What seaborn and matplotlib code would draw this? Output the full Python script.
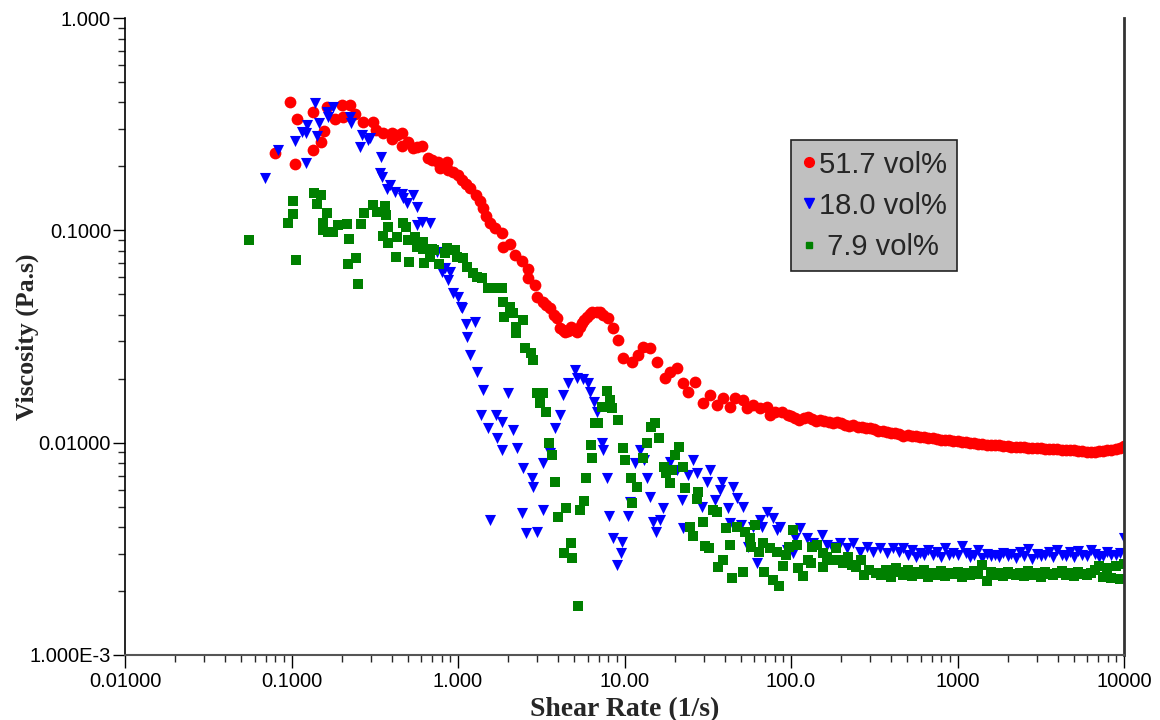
import matplotlib
matplotlib.use("Agg")
import matplotlib.pyplot as plt
from matplotlib.lines import Line2D
from matplotlib.ticker import LogLocator, NullFormatter
import seaborn as sns

##### Dados #####################################################################
# 51.7 vol%
red_x = [0.0796, 0.098, 0.105, 0.108, 0.1346, 0.135, 0.150, 0.157, 0.163, 0.182,
         0.201, 0.204, 0.225, 0.241, 0.269, 0.309, 0.322, 0.355, 0.401, 0.401,
         0.43, 0.461, 0.461, 0.50, 0.537, 0.57, 0.608, 0.661, 0.70, 0.759,
         0.78, 0.859, 0.87, 0.93, 1.0, 1.05, 1.12, 1.18, 1.28, 1.35,
         1.42, 1.48, 1.56, 1.67, 1.84, 1.86, 2.05, 2.2, 2.42, 2.63,
         2.65, 2.9, 3.0, 3.24, 3.4, 3.57, 3.75, 3.93, 4.1, 4.25,
         4.4, 4.6, 4.8, 5.0, 5.2, 5.4, 5.56, 5.75, 5.96, 6.2,
         6.4, 6.8, 7.1, 7.43, 7.96, 8.53, 9.14, 9.79, 11.09, 12.05,
         12.92, 14.2, 15.7, 17.5, 18.8, 20.7, 22.4, 24.1, 26.5, 29.6,
         32.6, 35.9, 39.1, 43.0, 46.1, 51.5, 54.5, 59.2, 65.2, 71.8,
         74.8, 80.2, 88.3, 95.9,
         100, 106, 112, 119, 126, 133, 141, 150, 158, 168,
         178, 188, 200, 211, 224, 237, 251, 266, 282, 299,
         316, 335, 355, 376, 398, 422, 447, 473, 501, 531,
         562, 596, 631, 668, 708, 750, 794, 841, 891, 944,
         1000, 1060, 1120, 1190, 1260, 1330, 1410, 1500, 1580, 1680,
         1780, 1880, 2000, 2110, 2240, 2370, 2510, 2660, 2820, 2990,
         3160, 3350, 3550, 3760, 3980, 4220, 4470, 4730, 5010, 5310,
         5620, 5960, 6310, 6680, 7080, 7500, 7940, 8410, 8910, 9440,
         10000]
red_y = [0.231, 0.40, 0.205, 0.334, 0.239, 0.361, 0.26, 0.294, 0.381, 0.334,
         0.389, 0.342, 0.389, 0.353, 0.324, 0.324, 0.297, 0.287, 0.287, 0.269,
         0.280, 0.287, 0.249, 0.262, 0.244, 0.246, 0.249, 0.219, 0.215, 0.21,
         0.196, 0.21, 0.192, 0.188, 0.182, 0.173, 0.165, 0.158, 0.147, 0.137,
         0.127, 0.117, 0.108, 0.1025, 0.097, 0.0835, 0.0861, 0.0765, 0.0716, 0.0596,
         0.0657, 0.0552, 0.0485, 0.0459, 0.0445, 0.043, 0.040, 0.0386, 0.0347, 0.034,
         0.0332, 0.0335, 0.035, 0.034, 0.0332, 0.035, 0.0366, 0.038, 0.039, 0.0405,
         0.0412, 0.0412, 0.0412, 0.0399, 0.0386, 0.0347, 0.0304, 0.025, 0.024, 0.0259,
         0.0282, 0.0279, 0.024, 0.0201, 0.0215, 0.0224, 0.0191, 0.0173, 0.0193, 0.0154,
         0.0168, 0.015, 0.0162, 0.0147, 0.0162, 0.0159, 0.0146, 0.015, 0.0146, 0.0147,
         0.0135, 0.0139, 0.0139, 0.0135,
         0.0133, 0.0130, 0.0128, 0.0131, 0.0132, 0.0129, 0.0127, 0.0128, 0.0127, 0.0125,
         0.0124, 0.0125, 0.0124, 0.0121, 0.0120, 0.0121, 0.0118, 0.0119, 0.0117, 0.0117,
         0.0116, 0.0114, 0.0113, 0.0112, 0.0111, 0.0111, 0.0110, 0.0108, 0.0109, 0.0107,
         0.0107, 0.0106, 0.0106, 0.0105, 0.0105, 0.0104, 0.0103, 0.0103, 0.0103, 0.0102,
         0.0102, 0.0101, 0.0101, 0.0100, 0.00995, 0.00990, 0.00985, 0.00980, 0.00975, 0.00975,
         0.00975, 0.00965, 0.00964, 0.00958, 0.00953, 0.00953, 0.00953, 0.00948, 0.00944, 0.00944,
         0.00944, 0.00938, 0.00933, 0.00933, 0.00933, 0.00928, 0.00923, 0.00923, 0.00923, 0.00918,
         0.00913, 0.00908, 0.00903, 0.00908, 0.00913, 0.00918, 0.00923, 0.00928, 0.00933, 0.00940,
         0.00964]

# 18.0 vol%
blue_x = [0.0693, 0.083, 0.105, 0.122, 0.116, 0.124, 0.122, 0.138, 0.146, 0.142,
          0.163, 0.166, 0.178, 0.225, 0.228, 0.265, 0.258, 0.288, 0.296, 0.345,
          0.34, 0.35, 0.391, 0.375, 0.419, 0.461, 0.468, 0.537, 0.494, 0.567,
          0.608, 0.567, 0.679, 0.748, 0.835, 0.802, 0.895, 0.87, 0.933, 1.0,
          1.04, 1.057, 1.12, 1.27, 1.13, 1.18, 1.30, 1.41, 1.56, 1.37,
          1.51, 1.69, 1.84, 1.71, 1.84, 2.0, 2.14, 2.26, 2.46, 2.78,
          2.82, 2.42, 2.56, 2.98, 3.24, 3.24, 3.57, 3.83, 4.10, 4.27,
          4.58, 5.04, 5.2, 5.63, 6.04, 6.2, 6.56, 6.84, 7.33, 7.43,
          7.85, 8.1, 8.53, 9.66, 9.5, 9.0, 10.5, 10.8, 11.6, 12.4,
          13.1, 13.6, 14.2, 14.9, 15.5, 16.3, 17.0, 18.8, 20.7, 22.1,
          22.6, 24.0, 25.8, 27.2, 29.2, 31.3, 32.6, 35.0, 37.5, 38.6,
          41.9, 44.9, 47.4, 51.5, 43.0, 49.8, 55.2, 62.5, 59.2, 65.2,
          67.3, 71.8, 78.0, 82.0, 85.5, 94.6, 102.8, 105.7, 113, 125,
          136, 153, 164, 176, 197, 217, 236, 259, 286, 310,
          343, 377, 410,
          447, 473, 501, 531, 562, 596, 631, 668, 708, 750,
          794, 841, 891, 944, 1000, 1060, 1120, 1190, 1260, 1330,
          1410, 1500, 1580, 1680, 1780, 1880, 2000, 2110, 2240, 2370,
          2510, 2660, 2820, 2990, 3160, 3350, 3550, 3760, 3980, 4220,
          4470, 4730, 5010, 5310, 5620, 5960, 6310, 6680, 7080, 7500,
          7940, 8410, 8910, 9440, 10000]
blue_y = [0.176, 0.239, 0.263, 0.207, 0.29, 0.313, 0.287, 0.398, 0.32, 0.278,
          0.361, 0.342, 0.381, 0.342, 0.32, 0.281, 0.247, 0.266, 0.272, 0.221,
          0.186, 0.178, 0.163, 0.157, 0.151, 0.149, 0.142, 0.147, 0.135, 0.129,
          0.109, 0.106, 0.108, 0.079, 0.0664, 0.0637, 0.0637, 0.0583, 0.0507, 0.0485,
          0.0435, 0.0431, 0.0362, 0.037, 0.0315, 0.0259, 0.0215, 0.0177, 0.00432, 0.0135,
          0.0117, 0.0135, 0.0125, 0.0105, 0.00923, 0.0171, 0.0115, 0.00943, 0.00759, 0.00681,
          0.00618, 0.00466, 0.00375, 0.00379, 0.00482, 0.00802, 0.00893, 0.0117, 0.0135, 0.0168,
          0.0191, 0.022, 0.0201, 0.0199, 0.0191, 0.0173, 0.0155, 0.0139, 0.00996, 0.00923,
          0.00681, 0.00451, 0.00355, 0.0034, 0.00302, 0.00265, 0.00451, 0.00525, 0.00802, 0.00923,
          0.00828, 0.00681, 0.00555, 0.00423, 0.00379, 0.00432, 0.00492, 0.0081, 0.00743, 0.00537,
          0.00396, 0.00704, 0.00828, 0.00719, 0.00497, 0.00652, 0.00743, 0.00537, 0.00598, 0.00652,
          0.00492, 0.00618, 0.00548, 0.00497, 0.00418, 0.00409, 0.00322, 0.00271, 0.004, 0.00432,
          0.004, 0.00471, 0.00442, 0.00388, 0.004, 0.00312, 0.00302, 0.00355, 0.00396, 0.00355,
          0.00337, 0.00367, 0.0033, 0.00322, 0.00337, 0.00319, 0.00337, 0.00305, 0.00322, 0.00305,
          0.00319, 0.00302, 0.00319,
          0.00305, 0.00319, 0.00296, 0.00312, 0.00289, 0.00302, 0.00296, 0.00312, 0.00296, 0.00305,
          0.00289, 0.00319, 0.00296, 0.00302, 0.00296, 0.00325, 0.00302, 0.00289, 0.00296, 0.00312,
          0.00286, 0.00299, 0.00293, 0.00296, 0.00289, 0.00302, 0.00293, 0.00299, 0.00286, 0.00305,
          0.00293, 0.00315, 0.00283, 0.00299, 0.00293, 0.00296, 0.00305, 0.00289, 0.00312, 0.00296,
          0.00293, 0.00305, 0.00289, 0.00309, 0.00296, 0.00293, 0.00312, 0.00299, 0.00289, 0.00293,
          0.00305, 0.00296, 0.00296, 0.00302, 0.00355]

# 7.9 vol%
green_x = [0.0556, 0.102, 0.102, 0.0952, 0.106, 0.136, 0.150, 0.142, 0.163, 0.154,
           0.154, 0.166, 0.178, 0.190, 0.215, 0.221, 0.244, 0.218, 0.251, 0.262,
           0.272, 0.309, 0.327, 0.364, 0.369, 0.380, 0.353, 0.38, 0.430, 0.424,
           0.468, 0.488, 0.501, 0.509, 0.552, 0.567, 0.617, 0.617, 0.626, 0.698,
           0.722, 0.68, 0.769, 0.859, 0.959, 0.986, 0.835, 1.07, 1.13, 1.23,
           1.30, 1.39, 1.51, 1.74, 1.84, 1.86, 2.05, 2.14, 1.89, 2.46,
           2.23, 2.23, 2.53, 2.74, 2.82, 2.98, 3.24, 3.10, 3.38, 3.52,
           3.67, 3.83, 4.45, 4.0, 4.77, 4.33, 4.84, 5.26, 5.4, 5.71,
           5.87, 6.29, 6.38, 6.65, 6.94, 7.33, 7.85, 8.2, 8.45, 9.14,
           9.79, 10.1, 10.9, 11.9, 11.1, 12.9, 13.6, 14.4, 15.2, 16.1,
           17.3, 18.8, 20.1, 17.8, 19.3, 21.3, 22.4, 23.1, 27.6, 27.2,
           34.0, 35.9, 24.7, 25.8, 29.6, 30.4, 32.1, 39.1, 36.5, 44.2,
           40.5, 43.0, 47.4, 51.5, 53.0, 56.4, 57.8, 60.6, 64.3, 68.1,
           69.1, 74.8, 77.9, 82.0, 84.3, 90, 93, 97.3, 102.8, 108.6,
           110, 118, 126.7, 132, 134, 143, 155, 164, 155, 171,
           186, 191, 205, 219, 231, 247, 264, 276, 295, 324,
           347, 372, 397, 425,
           447, 473, 501, 531, 562, 596, 631, 668, 708, 750,
           794, 841, 891, 944, 1000, 1060, 1120, 1190, 1260, 1330,
           1410, 1500, 1580, 1680, 1780, 1880, 2000, 2110, 2240, 2370,
           2510, 2660, 2820, 2990, 3160, 3350, 3550, 3760, 3980, 4220,
           4470, 4730, 5010, 5310, 5620, 5960, 6310, 6680, 7080, 7500,
           7940, 8410, 8910, 9440, 10000]
green_y = [0.09, 0.137, 0.119, 0.108, 0.0725, 0.150, 0.147, 0.133, 0.121, 0.108,
           0.100, 0.0982, 0.0982, 0.106, 0.107, 0.091, 0.0741, 0.0694, 0.0559, 0.107,
           0.121, 0.1316, 0.122, 0.130, 0.118, 0.1037, 0.094, 0.0871, 0.093, 0.0749,
           0.108, 0.1037, 0.090, 0.0709, 0.093, 0.0834, 0.0881, 0.0817, 0.0701, 0.0817,
           0.0808, 0.0749, 0.0694, 0.0826, 0.0808, 0.0749, 0.0785, 0.0741, 0.0672, 0.0629,
           0.0603, 0.0596, 0.0535, 0.0535, 0.0535, 0.0459, 0.0435, 0.0408, 0.0391, 0.0378,
           0.035, 0.0328, 0.0279, 0.0264, 0.0245, 0.0171, 0.0171, 0.0154, 0.0139, 0.01,
           0.00875, 0.00652, 0.00492, 0.00446, 0.00337, 0.00302, 0.00286, 0.0017, 0.00482, 0.00531,
           0.00681, 0.00975, 0.00846, 0.0124, 0.0124, 0.0147, 0.0175, 0.0159, 0.0146, 0.0128,
           0.00943, 0.00828, 0.00681, 0.00618, 0.00519, 0.00846, 0.01, 0.0118, 0.0124, 0.0105,
           0.00767, 0.00645, 0.00875, 0.00719, 0.00743, 0.00953, 0.00767, 0.00611, 0.00585, 0.00542,
           0.00482, 0.00471, 0.004, 0.00363, 0.00423, 0.00326, 0.00319, 0.0028, 0.0026, 0.0023,
           0.00396, 0.0033, 0.004, 0.00246, 0.00379, 0.00355, 0.00322, 0.00409, 0.00305, 0.00337,
           0.00246, 0.00319, 0.00225, 0.00305, 0.00211, 0.00262, 0.00296, 0.00322, 0.00388, 0.0033,
           0.00257, 0.00235, 0.0028, 0.00271, 0.00322, 0.0033, 0.00302, 0.00289, 0.0026, 0.0028,
           0.00319, 0.0028, 0.00271, 0.00289, 0.00265, 0.0026, 0.0028, 0.00238, 0.00251, 0.00243,
           0.00238, 0.00251, 0.00233, 0.00257,
           0.00246, 0.00238, 0.00251, 0.00235, 0.00246, 0.00241, 0.00251, 0.00233, 0.00243, 0.00238,
           0.00248, 0.00235, 0.00243, 0.00241, 0.00246, 0.00233, 0.00243, 0.00238, 0.00248, 0.00241,
           0.00265, 0.00222, 0.00246, 0.00238, 0.00243, 0.00235, 0.00246, 0.00241, 0.00238, 0.00243,
           0.00235, 0.00248, 0.00238, 0.00243, 0.00233, 0.00246, 0.00241, 0.00238, 0.00243, 0.00248,
           0.00238, 0.00243, 0.00235, 0.00246, 0.00241, 0.00238, 0.00243, 0.00251, 0.00262, 0.00233,
           0.00258, 0.00231, 0.00262, 0.00229, 0.00268]

legend_labels = ["51.7 vol%", "18.0 vol%", " 7.9 vol%"]
x_ticks = [0.01, 0.1, 1, 10, 100, 1000, 10000]
x_tick_labels = ["0.01000", "0.1000", "1.000", "10.00", "100.0", "1000", "10000"]
y_ticks = [0.001, 0.01, 0.1, 1]
y_tick_labels = ["1.000E-3", "0.01000", "0.1000", "1.000"]

##### Figura #####################################################################
sns.set_style("ticks")
plt.rcParams["font.family"] = ["Liberation Sans", "DejaVu Sans"]

fig = plt.figure(figsize=(11.6, 7.2), dpi=100)
ax = fig.add_axes([125 / 1160, 65 / 720, 999 / 1160, 637 / 720])

sns.scatterplot(x=red_x, y=red_y, ax=ax, marker="o", s=72, color="#ff0000", linewidth=0, legend=False)
sns.scatterplot(x=blue_x, y=blue_y, ax=ax, marker="v", s=64, color="#0000ff", linewidth=0, legend=False)
sns.scatterplot(x=green_x, y=green_y, ax=ax, marker="s", s=46, color="#008000", linewidth=0, legend=False)

ax.set_xscale("log")
ax.set_yscale("log")
ax.set_xlim(0.01, 10000)
ax.set_ylim(0.001, 1)

ax.set_xticks(x_ticks, x_tick_labels)
ax.set_yticks(y_ticks, y_tick_labels)
ax.xaxis.set_minor_locator(LogLocator(base=10, subs=range(2, 10), numticks=20))
ax.yaxis.set_minor_locator(LogLocator(base=10, subs=range(2, 10), numticks=20))
ax.xaxis.set_minor_formatter(NullFormatter())
ax.yaxis.set_minor_formatter(NullFormatter())
ax.tick_params(which="major", direction="out", length=9, width=1, labelsize=14.5, pad=1, colors="black")
ax.tick_params(which="minor", direction="out", length=5, width=1)
ax.tick_params(axis="x", which="major", pad=3)

ax.spines["top"].set_visible(False)
ax.spines["right"].set_color("#333333")
ax.spines["right"].set_linewidth(2)
ax.spines["bottom"].set_color("#555555")
ax.spines["bottom"].set_linewidth(1.5)
ax.spines["left"].set_color("black")
ax.spines["left"].set_linewidth(1.2)

ax.set_xlabel("Shear Rate (1/s)", family=["Liberation Serif"], weight="bold", size=20)
ax.set_ylabel("Viscosity (Pa.s)", family=["Liberation Serif"], weight="bold", size=18.5)
ax.xaxis.set_label_coords(0.5, -0.066)
ax.yaxis.set_label_coords(-0.086, 0.5)

handles = [
    Line2D([], [], marker="o", color="#ff0000", linestyle="none", markersize=7),
    Line2D([], [], marker="v", color="#0000ff", linestyle="none", markersize=7),
    Line2D([], [], marker="s", color="#008000", linestyle="none", markersize=5),
]
leg = ax.legend(handles, legend_labels, loc="upper left", bbox_to_anchor=(0.667, 0.808),
                frameon=True, fancybox=False, facecolor="#c0c0c0", edgecolor="#222222",
                framealpha=1, fontsize=21, handlelength=0.5, handletextpad=0.1,
                borderpad=0.35, labelspacing=0.45, borderaxespad=0)
leg.get_frame().set_linewidth(1.2)

fig.savefig("out.png", dpi=100)
